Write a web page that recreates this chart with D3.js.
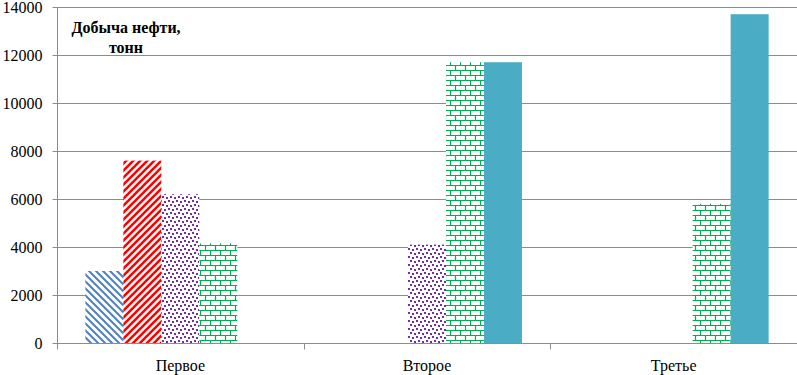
<!DOCTYPE html>
<html><head><meta charset="utf-8">
<script src="https://cdn.jsdelivr.net/npm/d3@7/dist/d3.min.js"></script>
<style>body{margin:0;background:#fff;}svg{display:block;}</style>
</head><body>
<svg id="c" width="797" height="375"></svg>
<script>
const categories = ["Первое", "Второе", "Третье"];
const seriesNames = ["s1", "s2", "s3", "s4", "s5"];
const s1 = [3000, 0, 0];
const s2 = [7600, 0, 0];
const s3 = [6200, 4100, 0];
const s4 = [4150, 11700, 5800];
const s5 = [0, 11700, 13700];
const seriesValues = [s1, s2, s3, s4, s5];
const yTicks = [0, 2000, 4000, 6000, 8000, 10000, 12000, 14000];
const title = ["Добыча нефти,", "тонн"];

const FONT = "'Liberation Serif', serif";
const svg = d3.select("#c");
const m = {l: 57, r: 797, t: 7, b: 343};
const defs = svg.append("defs");

let p = defs.append("pattern").attr("id","p1").attr("patternUnits","userSpaceOnUse").attr("width",7).attr("height",7);
p.append("rect").attr("width",7).attr("height",7).attr("fill","#fff");
p.append("path").attr("d","M-1,-1 L8,8 M-4,3 L4,11 M3,-4 L11,4").attr("stroke","#4F81BD").attr("stroke-width",2);
p = defs.append("pattern").attr("id","p2").attr("patternUnits","userSpaceOnUse").attr("width",7).attr("height",7);
p.append("rect").attr("width",7).attr("height",7).attr("fill","#fff");
p.append("path").attr("d","M-1,8 L8,-1 M-4,4 L4,-4 M3,11 L11,3").attr("stroke","#FF0000").attr("stroke-width",2.6);
p = defs.append("pattern").attr("id","p3").attr("patternUnits","userSpaceOnUse").attr("width",8).attr("height",8);
p.append("rect").attr("width",8).attr("height",8).attr("fill","#fff");
[[0,0],[4,1],[2,4],[6,5]].forEach(d=>{
  p.append("rect").attr("x",d[0]).attr("y",d[1]).attr("width",2).attr("height",2).attr("fill","#7030A0");
});
p = defs.append("pattern").attr("id","p4").attr("patternUnits","userSpaceOnUse").attr("width",10).attr("height",10);
p.append("rect").attr("width",10).attr("height",10).attr("fill","#fff");
p.append("path").attr("d","M0,0.5 H10 M0,5.5 H10 M0.5,0 V5 M5.5,5 V10").attr("stroke","#00B050").attr("stroke-width",1.2);

const fills = ["url(#p1)","url(#p2)","url(#p3)","url(#p4)","#4BACC6"];

const y = d3.scaleLinear().domain([0,14000]).range([m.b, m.t]);
const pin = 0.23;
const x0 = d3.scaleBand().domain(categories).range([m.l, m.r]).paddingInner(pin).paddingOuter(pin/2);
const x1 = d3.scaleBand().domain(seriesNames).range([0, x0.bandwidth()]);

svg.append("g").selectAll("line").data(yTicks.filter(d=>d>0)).join("line")
  .attr("x1", m.l).attr("x2", m.r).attr("y1", d=>y(d)+0.5).attr("y2", d=>y(d)+0.5)
  .attr("stroke","#8c8c8c").attr("stroke-width",1);

const data = [];
categories.forEach((c,i)=>seriesNames.forEach((s,j)=>{ if (seriesValues[j][i]>0) data.push({c, s, v: seriesValues[j][i], j}); }));
svg.append("g").selectAll("rect").data(data).join("rect")
  .attr("x", d=>x0(d.c)+x1(d.s)).attr("width", x1.bandwidth())
  .attr("y", d=>y(d.v)).attr("height", d=>y(0)-y(d.v))
  .attr("fill", d=>fills[d.j]);

const yAxis = d3.axisLeft(y).tickValues(yTicks).tickSize(5).tickPadding(10).tickFormat(d3.format("d"));
const ga = svg.append("g").attr("transform",`translate(${m.l+0.5},0)`).call(yAxis);
ga.attr("font-size",16);
ga.select(".domain").attr("stroke","#8c8c8c").attr("d", `M0,${m.t}V${m.b}`);
ga.selectAll(".tick line").attr("stroke","#8c8c8c");
ga.selectAll(".tick text").attr("fill","#000");

const gx = svg.append("g").attr("transform",`translate(0,${m.b+0.5})`);
gx.append("line").attr("x1",m.l).attr("x2",m.r).attr("stroke","#8c8c8c");
const bounds = [m.l, ...categories.slice(1).map(c=>x0(c)-x0.step()*pin/2), m.r-0.5];
gx.selectAll("line.t").data(bounds).join("line").attr("class","t")
  .attr("x1",d=>Math.round(d)+0.5).attr("x2",d=>Math.round(d)+0.5).attr("y1",0).attr("y2",6).attr("stroke","#8c8c8c");
gx.selectAll("text").data(categories).join("text")
  .attr("x", d=>x0(d)+x0.bandwidth()/2).attr("y", 27)
  .attr("text-anchor","middle").attr("font-size",16).text(d=>d);

svg.append("text").attr("x",126).attr("y",33).attr("text-anchor","middle")
  .attr("font-size",16).attr("font-weight","bold")
  .selectAll("tspan").data(title).join("tspan").attr("x",126).attr("dy",(d,i)=>i?20:0).text(d=>d);

svg.selectAll("text").style("font-family", FONT, "important");
svg.selectAll("g").style("font-family", FONT, "important");
</script>
</body></html>
